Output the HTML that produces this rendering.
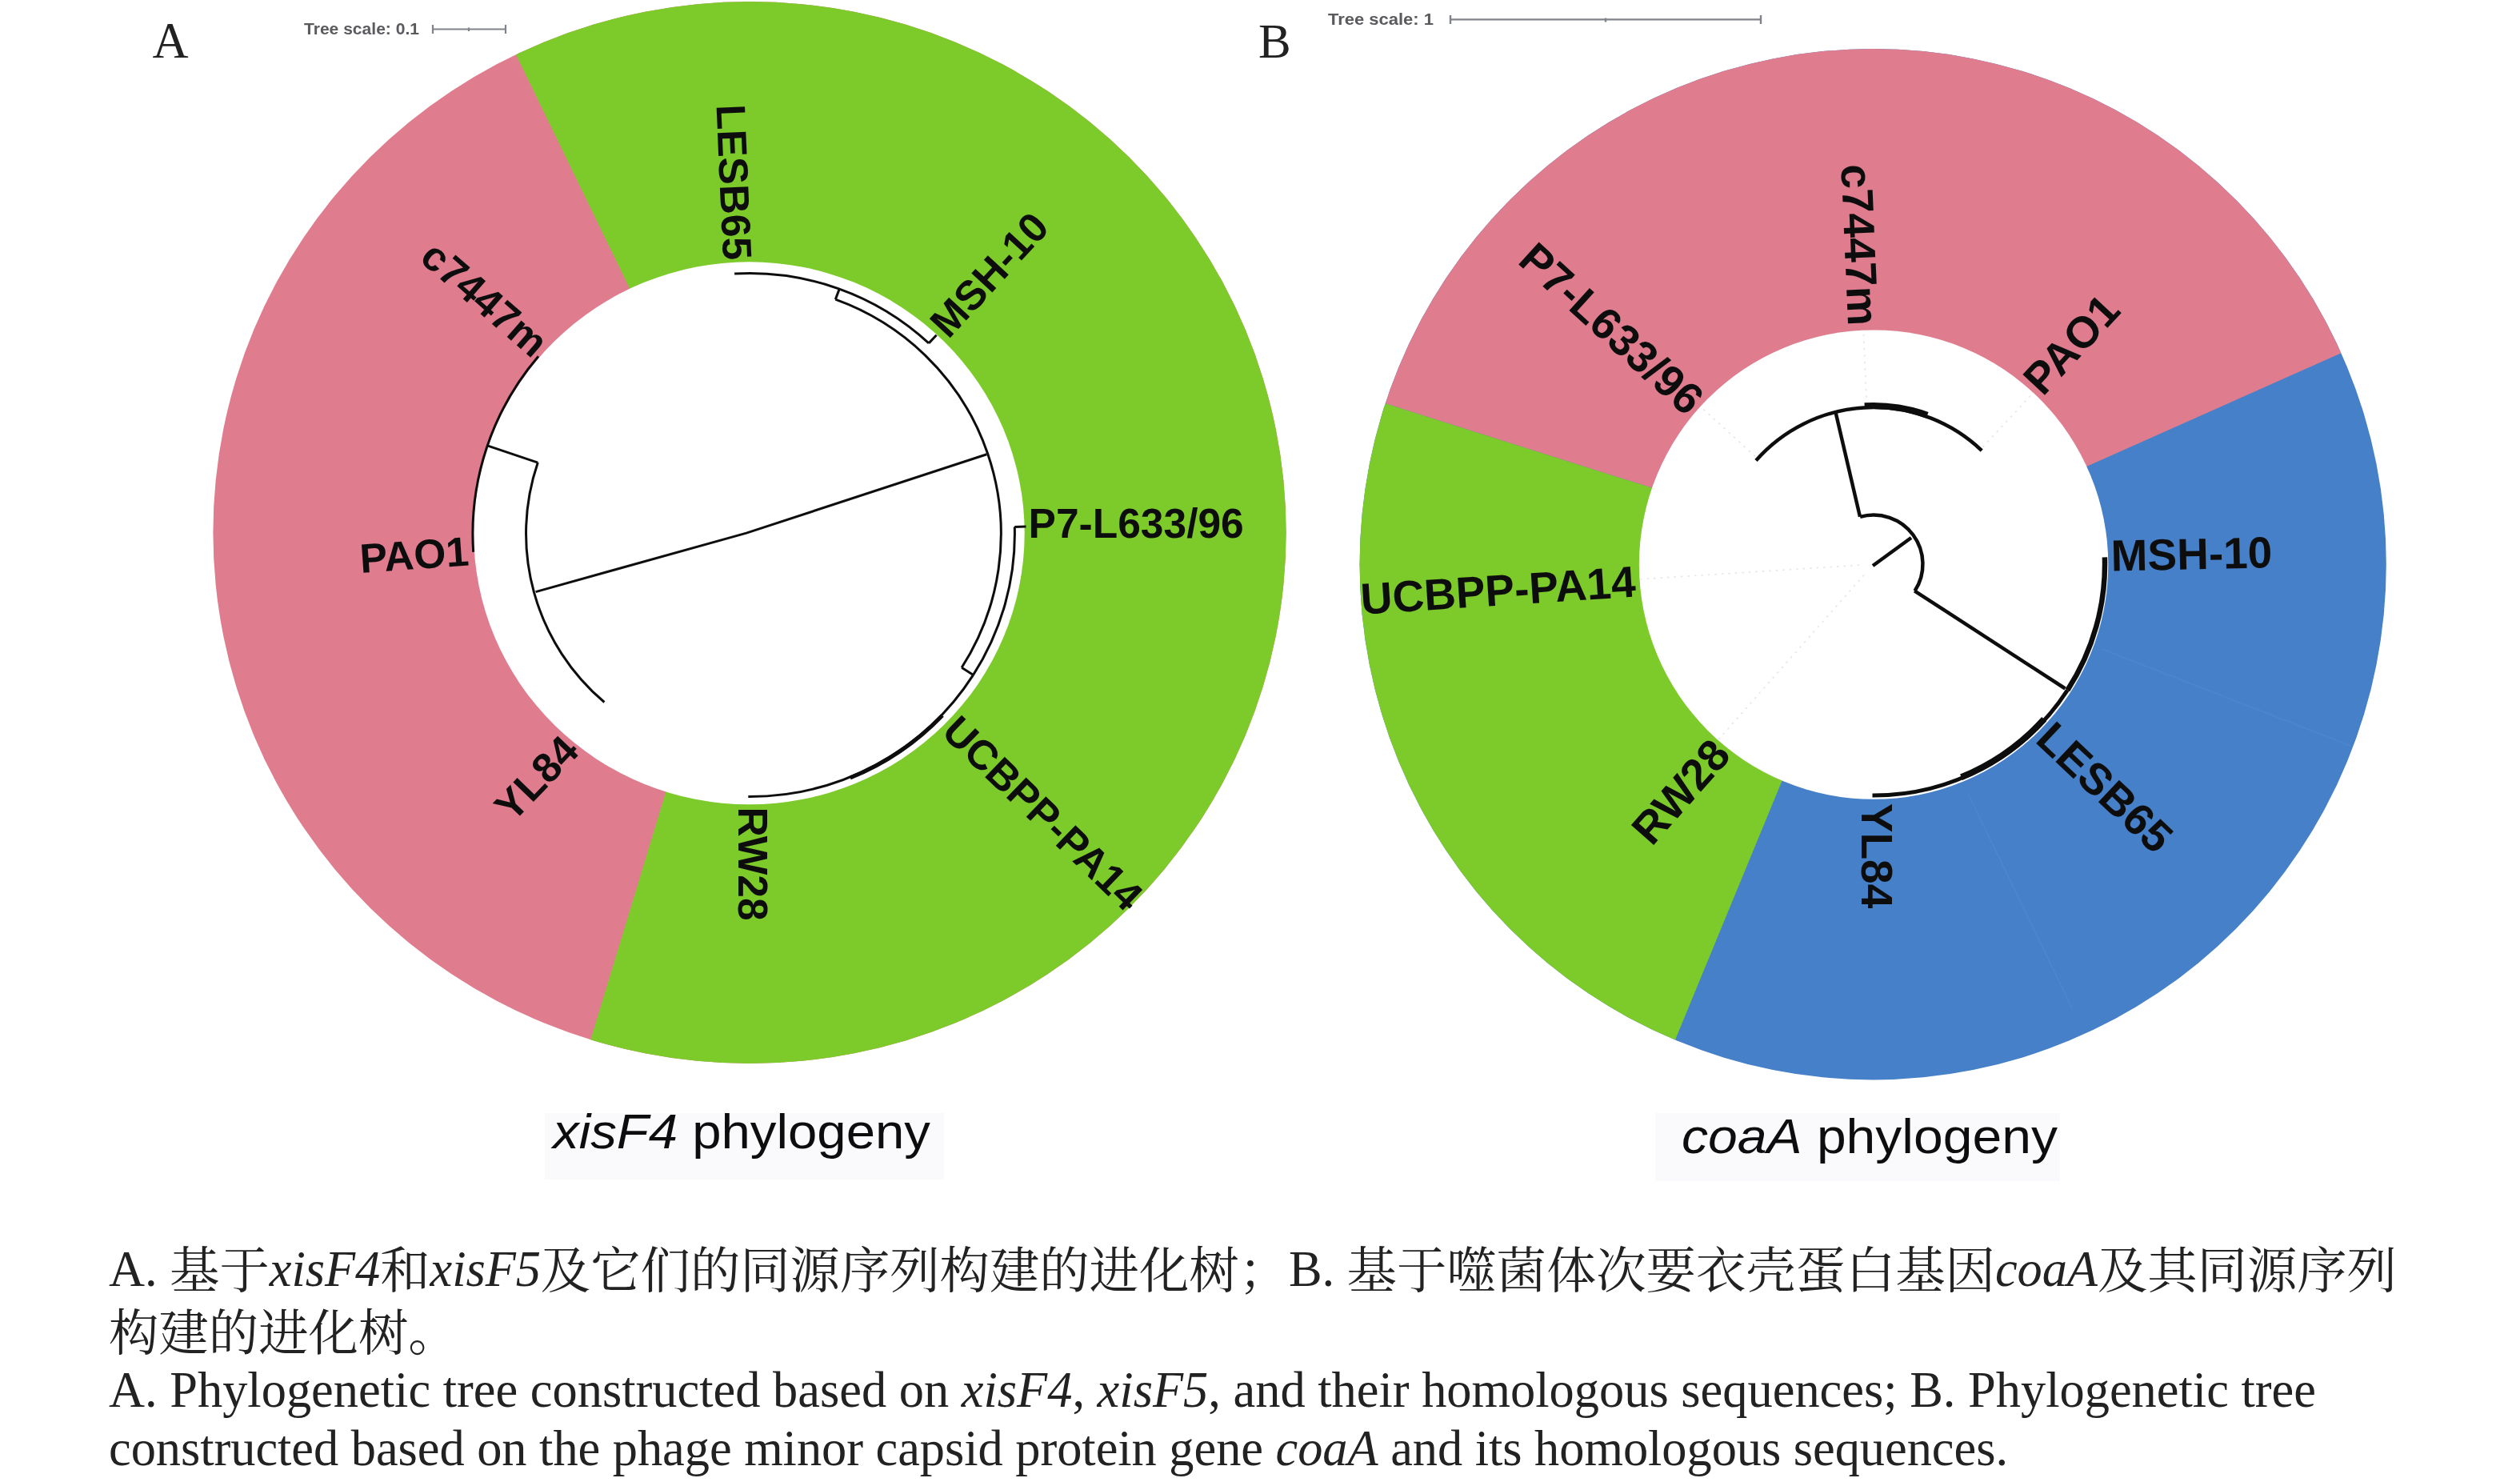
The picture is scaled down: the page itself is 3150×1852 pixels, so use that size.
<!DOCTYPE html>
<html lang="zh"><head><meta charset="utf-8"><title>Figure</title>
<style>html,body{margin:0;padding:0;background:#fff;overflow:hidden}svg{display:block}</style></head>
<body>
<svg width="3150" height="1852" viewBox="0 0 3150 1852">
<rect width="3150" height="1852" fill="#fff"/>
<defs>
<clipPath id="clipA"><ellipse cx="937.0" cy="665.5" rx="670.6" ry="663.5" fill="#000" /></clipPath>
<clipPath id="clipB"><ellipse cx="2341.2" cy="705.2" rx="641.6" ry="644.2" fill="#000" /></clipPath>
<filter id="soft" x="0" y="0" width="100%" height="100%" filterUnits="userSpaceOnUse"><feGaussianBlur stdDeviation="0.7"/></filter>
</defs>
<g filter="url(#soft)">
<ellipse cx="937.0" cy="665.5" rx="670.6" ry="663.5" fill="#DF7D8F" />
<polygon clip-path="url(#clipA)" fill="#7DCB2A" points="932.5,659.8 575.8,-74.1 575.8,-400.0 2000.0,-400.0 2000.0,1800.0 692.4,1800.0 692.4,1450.5"/>
<ellipse cx="936.4" cy="666.3" rx="344.3" ry="339.0" fill="#fff" />
<ellipse cx="2341.2" cy="705.2" rx="641.6" ry="644.2" fill="#4480C8" />
<polygon clip-path="url(#clipB)" fill="#DF7D8F" points="2342.0,705.0 2063.6,609.3 1534.0,441.6 1400.0,-300.0 3300.0,-300.0 3115.2,357.4 2610.9,581.7"/>
<polygon clip-path="url(#clipB)" fill="#7DCB2A" points="2342.0,705.0 2063.6,609.3 1534.0,441.6 1400.0,441.6 1400.0,1700.0 2016.4,1700.0 2016.4,1487.6 2226.5,978.2"/>
<ellipse cx="2342.1" cy="705.6" rx="293.2" ry="293.2" fill="#fff" />
<g id="treeA">
<path d="M918.1 342.0 A328.4 325.5 0 0 1 1161.0 428.9" fill="none" stroke="#111" stroke-width="3"/>
<line x1="1161.0" y1="428.9" x2="1170.6" y2="418.7" stroke="#111" stroke-width="3" />
<line x1="1044.3" y1="374.2" x2="1049.2" y2="361.1" stroke="#111" stroke-width="3" />
<path d="M1044.3 374.2 A314.3 311.5 0 0 1 1202.1 834.3" fill="none" stroke="#111" stroke-width="3"/>
<line x1="1202.1" y1="834.3" x2="1216.6" y2="843.4" stroke="#111" stroke-width="3" />
<path d="M1268.3 658.4 A331.5 328.5 0 0 1 1216.6 843.4" fill="none" stroke="#111" stroke-width="3"/>
<line x1="1268.3" y1="658.4" x2="1282.5" y2="658.0" stroke="#111" stroke-width="3" />
<path d="M1216.6 843.4 A331.5 328.5 0 0 1 935.3 995.5" fill="none" stroke="#111" stroke-width="3"/>
<path d="M1178.0 894.0 A332.5 329.5 0 0 1 1062.8 972.0" fill="none" stroke="#111" stroke-width="5"/>
<path d="M591.7 689.9 A346.1 343.0 0 0 1 673.0 445.2" fill="none" stroke="#111" stroke-width="3"/>
<line x1="672.3" y1="578.1" x2="609.2" y2="556.9" stroke="#111" stroke-width="3" />
<path d="M755.4 877.5 A279.5 277.0 0 0 1 672.3 578.1" fill="none" stroke="#111" stroke-width="3"/>
<polyline points="669.6,739.6 933,666.1 1233.4,567.8" fill="none" stroke="#111" stroke-width="3"/>
</g>
<g id="treeB">
<line x1="2333.3" y1="505.2" x2="2329.3" y2="413.3" stroke="#e6e9e8" stroke-width="1.8" stroke-dasharray="2.5 6"/>
<line x1="2478.4" y1="558.7" x2="2541.1" y2="491.4" stroke="#e6e9e8" stroke-width="1.8" stroke-dasharray="2.5 6"/>
<line x1="2194.1" y1="570.4" x2="2126.0" y2="508.5" stroke="#e6e9e8" stroke-width="1.8" stroke-dasharray="2.5 6"/>
<line x1="2324.0" y1="706.2" x2="2050.6" y2="723.8" stroke="#e6e9e8" stroke-width="1.8" stroke-dasharray="2.5 6"/>
<line x1="2330.1" y1="718.5" x2="2148.5" y2="923.7" stroke="#e6e9e8" stroke-width="1.8" stroke-dasharray="2.5 6"/>
<line x1="2626.8" y1="810.7" x2="2938.6" y2="932.2" stroke="#5a93d6" stroke-width="1.6" opacity="0.38"/>
<line x1="2460.7" y1="993.0" x2="2590.3" y2="1260.3" stroke="#5a93d6" stroke-width="1.6" opacity="0.38"/>
<path d="M2195.0 575.4 A196.0 196.0 0 0 1 2477.2 563.1" fill="none" stroke="#111" stroke-width="4.5"/>
<path d="M2330.7 507.3 A198.0 198.0 0 0 1 2409.2 518.7" fill="none" stroke="#111" stroke-width="8"/>
<line x1="2294.3" y1="514.3" x2="2325.0" y2="645.7" stroke="#111" stroke-width="4.5" />
<path d="M2325.1 645.9 A61.5 61.5 0 0 1 2393.5 738.6" fill="none" stroke="#111" stroke-width="4.5"/>
<line x1="2341.0" y1="707.0" x2="2389.0" y2="672.0" stroke="#111" stroke-width="4.5" />
<line x1="2393.1" y1="738.3" x2="2581.5" y2="860.5" stroke="#111" stroke-width="4.5" />
<path d="M2630.9 696.4 A289.0 289.0 0 0 1 2584.4 862.4" fill="none" stroke="#111" stroke-width="6.5"/>
<path d="M2584.4 862.4 A289.0 289.0 0 0 1 2340.5 994.0" fill="none" stroke="#111" stroke-width="5"/>
<path d="M2555.1 898.8 A288.0 288.0 0 0 1 2451.6 971.3" fill="none" stroke="#111" stroke-width="8"/>
</g>
<g font-family="'Liberation Sans', sans-serif" font-weight="bold" fill="#111">
<text transform="translate(895.5 131.2) rotate(87.5)" font-size="51.5">LESB65</text>
<text transform="translate(1185.6 424.7) rotate(-47.3)" font-size="51.5">MSH-10</text>
<text transform="translate(1285.6 671.8) rotate(0)" font-size="51.5">P7-L633/96</text>
<text transform="translate(1175.2 917.0) rotate(44)" font-size="51.5">UCBPP-PA14</text>
<text transform="translate(923.2 1008.4) rotate(90)" font-size="51.5">RW28</text>
<text transform="translate(640.6 1029.2) rotate(-46)" font-size="51.5">YL84</text>
<text transform="translate(450.9 716.0) rotate(-4)" font-size="51.5">PAO1</text>
<text transform="translate(522.8 324.9) rotate(41)" font-size="51.5">c7447m</text>
<text transform="translate(2301.3 206.0) rotate(87.5)" font-size="55">c7447m</text>
<text transform="translate(2553.4 496.4) rotate(-47)" font-size="55">PAO1</text>
<text transform="translate(2639.0 713.4) rotate(-1.2)" font-size="55">MSH-10</text>
<text transform="translate(2542.4 926.4) rotate(43.3)" font-size="55">LESB65</text>
<text transform="translate(2327.2 1003.8) rotate(90)" font-size="55">YL84</text>
<text transform="translate(2064.8 1058.8) rotate(-48.5)" font-size="55">RW28</text>
<text transform="translate(1702.0 767.8) rotate(-3.7)" font-size="55">UCBPP-PA14</text>
<text transform="translate(1895.4 327.9) rotate(42.3)" font-size="55">P7-L633/96</text>
</g>
<g font-family="'Liberation Sans', sans-serif" fill="#5a5a5e" font-weight="bold">
<text x="380" y="42.5" font-size="19.5" textLength="144" lengthAdjust="spacingAndGlyphs">Tree scale: 0.1</text>
<text x="1660" y="30.5" font-size="20" textLength="132" lengthAdjust="spacingAndGlyphs">Tree scale: 1</text>
</g>
<path d="M541 36.5H632M541 31V42M632 31V42M586 34.5V39" stroke="#80838a" stroke-width="2.2" fill="none"/>
<path d="M1813 24.4H2201M1813 19V30M2201 19V30M2007 22.5V27.5" stroke="#80838a" stroke-width="2.4" fill="none"/>
<rect x="681" y="1391" width="499" height="83" fill="#fafafc"/>
<rect x="2069" y="1391" width="506" height="85" fill="#fafafc"/>
<g font-family="'Liberation Sans', sans-serif" fill="#111" font-size="61">
<text x="691" y="1435" textLength="472" lengthAdjust="spacingAndGlyphs"><tspan font-style="italic">xisF4</tspan> phylogeny</text>
<text x="2102" y="1441" textLength="470" lengthAdjust="spacingAndGlyphs"><tspan font-style="italic">coaA</tspan> phylogeny</text>
</g>
</g>
<g font-family="'Liberation Serif', serif" fill="#222">
<text x="190.5" y="71.8" font-size="62.5">A</text>
<text x="1573" y="71.7" font-size="61">B</text>
</g>
<g font-family="'Liberation Serif', 'Noto Serif CJK SC', serif" fill="#222" font-size="62.4">
<text x="136" y="1606.5" textLength="2860" lengthAdjust="spacing">A. <tspan dy="3">基于</tspan><tspan dy="-3" font-style="italic">xisF4</tspan><tspan dy="3">和</tspan><tspan dy="-3" font-style="italic">xisF5</tspan><tspan dy="3">及它们的同源序列构建的进化树；</tspan><tspan dy="-3">B. </tspan><tspan dy="3">基于噬菌体次要衣壳蛋白基因</tspan><tspan dy="-3" font-style="italic">coaA</tspan><tspan dy="3">及其同源序列</tspan></text>
<text x="136" y="1687.5">构建的进化树。</text>
<text x="136" y="1757.5" textLength="2759" lengthAdjust="spacing">A. Phylogenetic tree constructed based on <tspan font-style="italic">xisF4</tspan>, <tspan font-style="italic">xisF5</tspan>, and their homologous sequences; B. Phylogenetic tree</text>
<text x="136" y="1831" textLength="2374" lengthAdjust="spacing">constructed based on the phage minor capsid protein gene <tspan font-style="italic">coaA</tspan> and its homologous sequences.</text>
</g>
</svg>
</body></html>
